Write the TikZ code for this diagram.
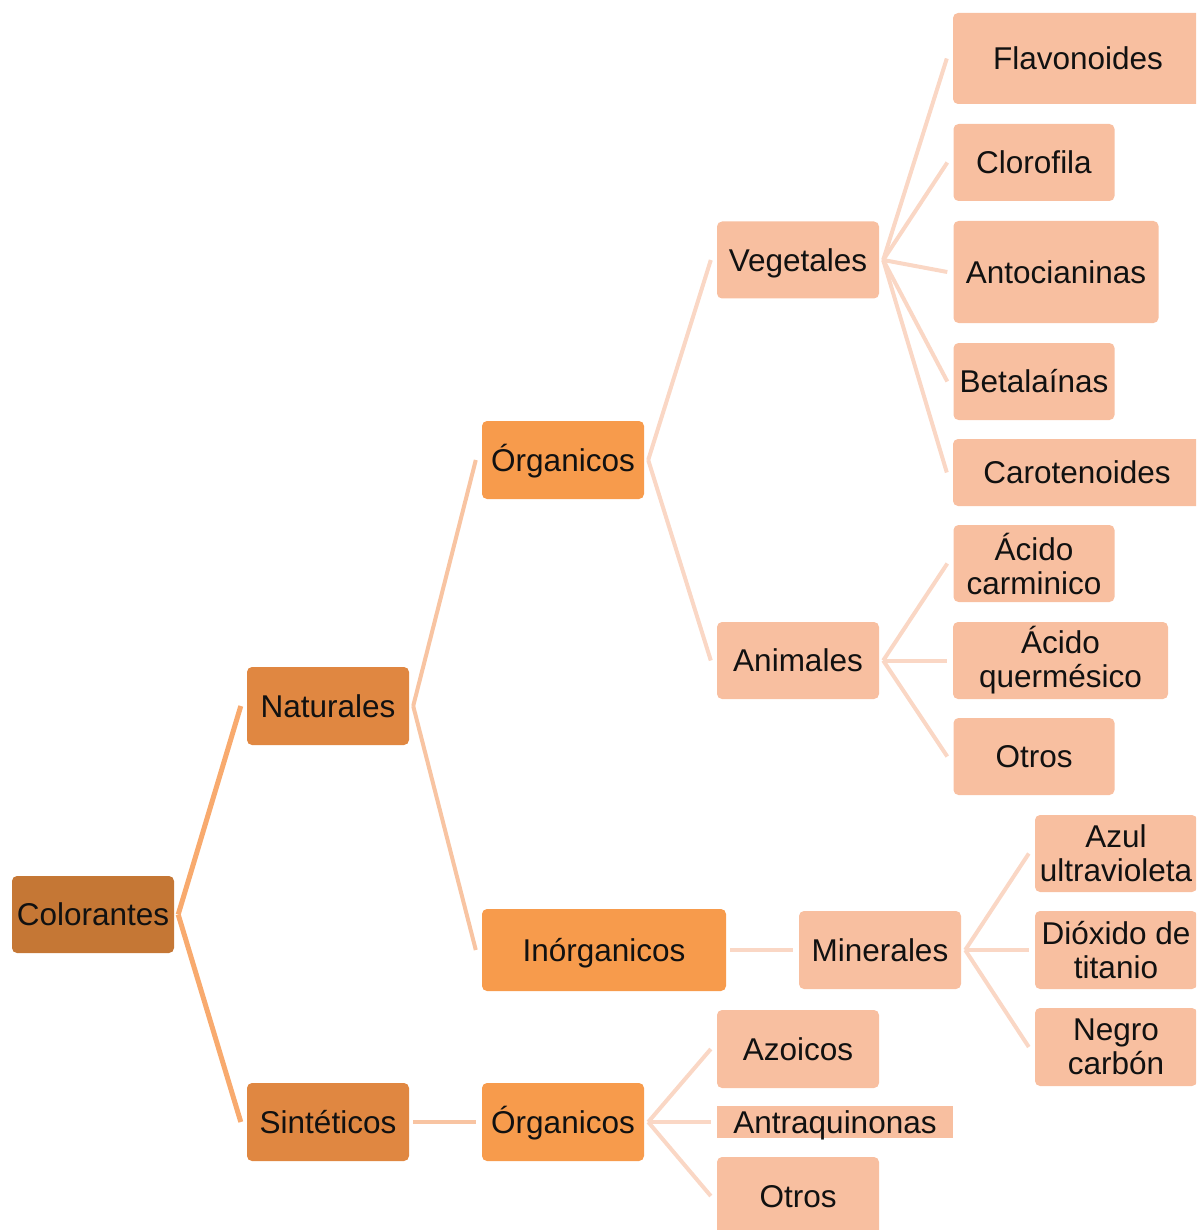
\documentclass[tikz,border=0pt]{standalone}
\usepackage{fontspec}
\setmainfont{Liberation Sans}
\definecolor{cZero}{HTML}{C57735}
\definecolor{cOne}{HTML}{E08741}
\definecolor{cTwo}{HTML}{F79B4C}
\definecolor{cLeaf}{HTML}{F8BFA0}
\definecolor{lZero}{HTML}{F8AA6E}
\definecolor{lOne}{HTML}{F8C4A2}
\definecolor{lTwo}{HTML}{FAD7C5}
\definecolor{ink}{HTML}{111111}
\begin{document}
\begin{tikzpicture}[x=1pt,y=-1pt,
  box/.style={rounded corners=5pt, inner sep=0pt, text=ink,
    font=\fontsize{31.5}{34}\selectfont, align=center},
  one/.style={text height=22.5pt, text depth=0pt},
  lvA/.style={fill=cZero},
  lvB/.style={fill=cOne},
  lvC/.style={fill=cTwo},
  lvD/.style={fill=cLeaf},
  sz/.style 2 args={minimum width=#1pt, minimum height=#2pt},
  lnA/.style={draw=lZero, line width=5pt},
  lnB/.style={draw=lOne, line width=4pt},
  lnC/.style={draw=lTwo, line width=4pt}]
\clip (0,0) rectangle (1196,1230);
% nodes
\node[box,one,lvA,sz={162}{77}] (col) at (93,914.5) {Colorantes};
\node[box,one,lvB,sz={162}{78}] (nat) at (328,706) {Naturales};
\node[box,one,lvB,sz={162}{78}] (sin) at (328,1122) {Sintéticos};
\node[box,one,lvC,sz={162}{78}] (orgA) at (563,460) {Órganicos};
\node[box,one,lvC,sz={244}{82}] (inorg) at (604,950) {Inórganicos};
\node[box,one,lvC,sz={162}{78}] (orgB) at (563,1122) {Órganicos};
\node[box,one,lvD,sz={162}{77}] (veg) at (798,260) {Vegetales};
\node[box,one,lvD,sz={162}{77}] (ani) at (798,660.5) {Animales};
\node[box,one,lvD,sz={162}{78}] (min) at (880,950) {Minerales};
\node[box,one,lvD,sz={162}{78}] (azo) at (798,1049) {Azoicos};
\node[box,one,lvD,sharp corners,sz={236}{32}] (antr) at (835,1122) {Antraquinonas};
\node[box,one,lvD,sz={162}{78}] (otrB) at (798,1196) {Otros};
\node[box,one,lvD,sz={250}{91}] (flav) at (1078,58.5) {Flavonoides};
\node[box,one,lvD,sz={161}{77}] (clor) at (1034,162.5) {Clorofila};
\node[box,one,lvD,sz={205}{102}] (anto) at (1056,272) {Antocianinas};
\node[box,one,lvD,sz={161}{77}] (beta) at (1034,381.5) {Betalaínas};
\node[box,one,lvD,sz={248}{67}] (caro) at (1077,472.5) {Carotenoides};
\node[box,lvD,sz={161}{77}] (acar) at (1034,563.5) {Ácido\\carminico};
\node[box,lvD,sz={215}{77}] (aque) at (1060.5,660.5) {Ácido\\quermésico};
\node[box,one,lvD,sz={161}{77}] (otrA) at (1034,756.5) {Otros};
\node[box,lvD,sz={162}{77}] (azul) at (1116,853.5) {Azul\\ultravioleta};
\node[box,lvD,sz={162}{78}] (diox) at (1116,950) {Dióxido de\\titanio};
\node[box,lvD,sz={162}{78}] (negr) at (1116,1047) {Negro\\carbón};
% connectors
\draw[lnA] ([xshift=4pt]col.east) -- ([xshift=-6pt]nat.west);
\draw[lnA] ([xshift=4pt]col.east) -- ([xshift=-6pt]sin.west);
\draw[lnB] ([xshift=4pt]nat.east) -- ([xshift=-6pt]orgA.west);
\draw[lnB] ([xshift=4pt]nat.east) -- ([xshift=-6pt]inorg.west);
\draw[lnB] ([xshift=4pt]sin.east) -- ([xshift=-6pt]orgB.west);
\draw[lnC] ([xshift=4pt]orgA.east) -- ([xshift=-6pt]veg.west);
\draw[lnC] ([xshift=4pt]orgA.east) -- ([xshift=-6pt]ani.west);
\draw[lnC] ([xshift=4pt]inorg.east) -- ([xshift=-6pt]min.west);
\draw[lnC] ([xshift=4pt]orgB.east) -- ([xshift=-6pt]azo.west);
\draw[lnC] ([xshift=4pt]orgB.east) -- ([xshift=-6pt]antr.west);
\draw[lnC] ([xshift=4pt]orgB.east) -- ([xshift=-6pt]otrB.west);
\draw[lnC] ([xshift=4pt]veg.east) -- ([xshift=-6pt]flav.west);
\draw[lnC] ([xshift=4pt]veg.east) -- ([xshift=-6pt]clor.west);
\draw[lnC] ([xshift=4pt]veg.east) -- ([xshift=-6pt]anto.west);
\draw[lnC] ([xshift=4pt]veg.east) -- ([xshift=-6pt]beta.west);
\draw[lnC] ([xshift=4pt]veg.east) -- ([xshift=-6pt]caro.west);
\draw[lnC] ([xshift=4pt]ani.east) -- ([xshift=-6pt]acar.west);
\draw[lnC] ([xshift=4pt]ani.east) -- ([xshift=-6pt]aque.west);
\draw[lnC] ([xshift=4pt]ani.east) -- ([xshift=-6pt]otrA.west);
\draw[lnC] ([xshift=4pt]min.east) -- ([xshift=-6pt]azul.west);
\draw[lnC] ([xshift=4pt]min.east) -- ([xshift=-6pt]diox.west);
\draw[lnC] ([xshift=4pt]min.east) -- ([xshift=-6pt]negr.west);
\end{tikzpicture}
\end{document}
